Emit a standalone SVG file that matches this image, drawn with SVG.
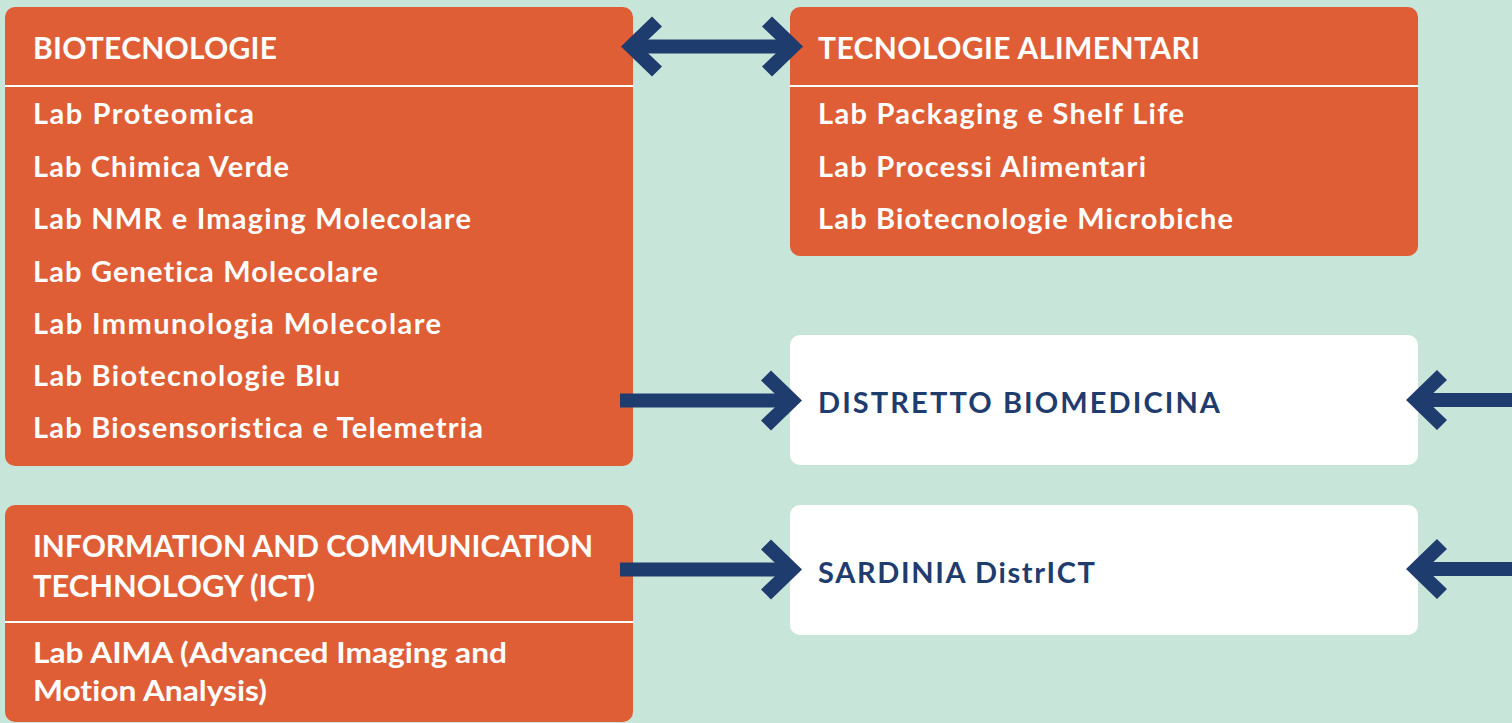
<svg xmlns="http://www.w3.org/2000/svg" width="1512" height="723" viewBox="0 0 1512 723">
<defs>
<style>
.bg{fill:#C8E5DA}
.or{fill:#E05E36}
.wh{fill:#FFFFFF}
.div{stroke:#FFFFFF;stroke-width:2}
.t{font-family:Lato,"Open Sans","Liberation Sans",sans-serif;font-weight:700;fill:#FFFFFF;font-variant-ligatures:none}
.h{font-size:30px}
.l{font-size:29px}
.n{font-family:Lato,"Open Sans","Liberation Sans",sans-serif;font-weight:700;fill:#1F3C6E;font-size:29px;font-variant-ligatures:none}
.ar{fill:#1F3C6E}
</style>
<path id="chevL" d="M0,0 L31,-30 L41,-20 L20,0 L41,20 L31,30 Z"/>
<path id="chevR" d="M0,0 L-31,-30 L-41,-20 L-20,0 L-41,20 L-31,30 Z"/>
</defs>
<rect class="bg" x="0" y="0" width="1512" height="723"/>

<g id="node-biotecnologie">
<rect class="or" x="5" y="7" width="628" height="459" rx="10"/>
<line class="div" x1="5" y1="86" x2="633" y2="86"/>
<text class="t h" x="33" y="59" textLength="244">BIOTECNOLOGIE</text>
<text class="t l" x="33" y="124" textLength="221">Lab Proteomica</text>
<text class="t l" x="33" y="177" textLength="256">Lab Chimica Verde</text>
<text class="t l" x="33" y="229" textLength="438">Lab NMR e Imaging Molecolare</text>
<text class="t l" x="33" y="282" textLength="345">Lab Genetica Molecolare</text>
<text class="t l" x="33" y="334" textLength="408">Lab Immunologia Molecolare</text>
<text class="t l" x="33" y="386" textLength="307">Lab Biotecnologie Blu</text>
<text class="t l" x="33" y="438" textLength="450">Lab Biosensoristica e Telemetria</text>
</g>

<g id="node-tecnologie-alimentari">
<rect class="or" x="790" y="7" width="628" height="249" rx="10"/>
<line class="div" x1="790" y1="86" x2="1418" y2="86"/>
<text class="t h" x="818" y="59" textLength="382">TECNOLOGIE ALIMENTARI</text>
<text class="t l" x="818" y="124" textLength="366">Lab Packaging e Shelf Life</text>
<text class="t l" x="818" y="177" textLength="328">Lab Processi Alimentari</text>
<text class="t l" x="818" y="229" textLength="415">Lab Biotecnologie Microbiche</text>
</g>

<g id="node-distretto-biomedicina">
<rect class="wh" x="790" y="335" width="628" height="130" rx="10"/>
<text class="n" x="818" y="413" textLength="402">DISTRETTO BIOMEDICINA</text>
</g>

<g id="node-sardinia-districT">
<rect class="wh" x="790" y="505" width="628" height="130" rx="10"/>
<text class="n" x="818" y="583" textLength="277">SARDINIA DistrICT</text>
</g>

<g id="node-ict">
<rect class="or" x="5" y="505" width="628" height="217" rx="10"/>
<line class="div" x1="5" y1="622" x2="633" y2="622"/>
<text class="t h" x="33" y="557" textLength="560" lengthAdjust="spacingAndGlyphs">INFORMATION AND COMMUNICATION</text>
<text class="t h" x="33" y="597" textLength="282" lengthAdjust="spacingAndGlyphs">TECHNOLOGY (ICT)</text>
<text class="t l" x="33" y="663" textLength="474" lengthAdjust="spacingAndGlyphs">Lab AIMA (Advanced Imaging and</text>
<text class="t l" x="33" y="701" textLength="234" lengthAdjust="spacingAndGlyphs">Motion Analysis)</text>
</g>

<g id="connectors">
<rect class="ar" x="635" y="39.5" width="154" height="14"/>
<use href="#chevL" class="ar" x="621" y="46.5"/>
<use href="#chevR" class="ar" x="803" y="46.5"/>
<rect class="ar" x="620" y="393.5" width="170" height="14"/>
<use href="#chevR" class="ar" x="802" y="400.5"/>
<rect class="ar" x="620" y="562.5" width="170" height="14"/>
<use href="#chevR" class="ar" x="802" y="569.5"/>
<rect class="ar" x="1418" y="393" width="94" height="14"/>
<use href="#chevL" class="ar" x="1406" y="400"/>
<rect class="ar" x="1418" y="562" width="94" height="14"/>
<use href="#chevL" class="ar" x="1406" y="569"/>
</g>
</svg>
